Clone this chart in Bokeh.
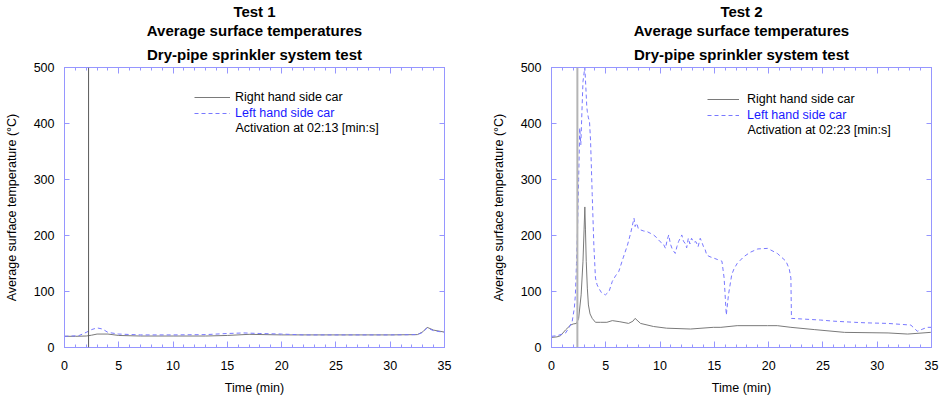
from bokeh.plotting import figure
from bokeh.layouts import row
from bokeh.models import (Range1d, FixedTicker, LinearAxis, Span, Legend,
                          LegendItem, Label, Title)
from bokeh.embed import file_html
from bokeh.resources import INLINE

FONT = "Liberation Sans"

# ---------------- data ----------------
x_major = [0, 5, 10, 15, 20, 25, 30, 35]
x_minor = list(range(0, 36))
y_major = [0, 100, 200, 300, 400, 500]

titles1 = ["Test 1", "Average surface temperatures", "Dry-pipe sprinkler system test"]
titles2 = ["Test 2", "Average surface temperatures", "Dry-pipe sprinkler system test"]

act1 = 2 + 13 / 60.0
act2 = 2 + 23 / 60.0
act1_text = "Activation at 02:13 [min:s]"
act2_text = "Activation at 02:23 [min:s]"

# Test 1 - right hand side car (grey solid)
t1_right = [0, 1, 2, 2.5, 3, 4, 5, 7, 10, 13, 15, 17, 20, 25, 30, 32.5, 33, 33.4, 34, 35]
v1_right = [20, 20, 20.5, 22, 24, 24, 21.5, 20.5, 20.5, 20.5, 21.5, 23.5, 22.5, 22.5, 22.5, 23, 28, 36, 31, 27.5]
# Test 1 - left hand side car (blue dashed)
t1_left = [0, 1.3, 2, 2.5, 3, 3.5, 4, 5, 7, 10, 13, 15, 16.5, 18, 20, 22, 25, 30, 32.5, 33, 33.4, 34, 35]
v1_left = [20, 21, 27, 32, 35, 33, 27, 24, 22.5, 22.5, 23, 25, 26, 25, 24, 22.5, 22.5, 22.5, 23, 27, 35, 30, 27]

# Test 2 - right hand side car (grey solid)
t2_right = [0, 0.5, 0.83, 1.3, 1.75, 2.0, 2.3, 2.5, 2.73, 2.9,
            3.0, 3.07, 3.13, 3.2, 3.3, 3.4, 3.55, 3.75, 4.05, 4.5,
            5.1, 5.6, 6.3, 7.1, 7.5, 7.7, 8.2, 9.4, 10.6, 12.8,
            14.9, 15.6, 17.1, 19.9, 20.8, 22.05, 24.2, 27, 31, 32.8,
            34.9, 35]
v2_right = [18, 19, 21, 31.5, 40, 42, 43, 52, 94, 154,
            210, 251, 210, 154, 106, 76, 60, 52, 45, 45,
            45, 48, 46, 43, 47, 52, 43, 37.5, 34.5, 33,
            36, 36, 39, 39, 39, 36, 32, 27, 26, 24,
            27, 27]
# Test 2 - left hand side car (blue dashed)
t2_left = [0, 0.5, 1.0, 1.3, 1.6, 1.9, 2.1, 2.2, 2.3, 2.4,
           2.5, 2.6, 2.7, 2.8, 2.9, 3.0, 3.07, 3.15, 3.25, 3.3,
           3.4, 3.5, 3.6, 3.75, 3.9, 4.05, 4.2, 4.35, 4.6, 4.97,
           5.3, 5.6, 5.9, 6.2, 6.6, 7.0, 7.3, 7.6, 7.7, 7.85,
           8.0, 8.2, 8.5, 8.8, 9.1, 9.4, 9.7, 10.0, 10.3, 10.5,
           10.65, 10.8, 10.95, 11.1, 11.25, 11.4, 11.55, 11.7, 11.85, 12.0,
           12.15, 12.3, 12.45, 12.6, 12.75, 12.9, 13.1, 13.3, 13.5, 13.7,
           13.85, 14.0, 14.15, 14.3, 14.6, 14.9, 15.3, 15.7, 15.9, 16.1,
           16.3, 16.6, 16.8, 17.1, 17.7, 18.3, 19.0, 19.9, 20.8, 21.6,
           21.9, 22.05, 22.1, 23, 24.8, 26, 27.9, 29, 31.0, 33.1,
           33.7, 34.2, 34.6, 35]
v2_left = [20, 21, 24, 26, 35, 46, 70, 94, 150, 213,
           300, 392, 362, 420, 475, 490, 500, 470, 430, 421,
           410, 404, 368, 273, 183, 124, 112, 106, 98, 94,
           100, 118, 128, 136, 160, 183, 205, 231, 216, 222,
           212, 210, 208, 207, 204, 201, 196, 189, 185, 177,
           192, 201, 185, 177, 172, 168, 180, 189, 195, 201,
           190, 186, 178, 195, 185, 195, 188, 189, 180, 195,
           188, 180, 175, 165, 162, 160, 157, 154, 124, 58,
           94, 130, 140, 150, 162, 170, 176, 177, 168, 154,
           140, 124, 52, 51, 49, 47, 45, 44, 43, 40,
           29, 33, 36, 36]

right_label = "Right hand side car"
left_label = "Left hand side car"

# ---------------- styles ----------------
FRAME = "#9696ff"
GREY = "#7a7a7a"
BLUE = "#7878ff"
BLUE_TXT = "#1a1aff"


def style_axis(ax, labels=True):
    ax.axis_line_color = FRAME
    ax.major_tick_line_color = FRAME
    ax.minor_tick_line_color = FRAME
    ax.major_tick_out = 0
    ax.minor_tick_out = 0
    ax.major_label_text_font = FONT
    ax.major_label_text_font_size = "12.5px"
    ax.major_label_text_color = "black"
    ax.axis_label_text_font = FONT
    ax.axis_label_text_font_size = "12.5px"
    ax.axis_label_text_font_style = "normal"
    ax.axis_label_text_color = "black"
    if not labels:
        ax.major_label_text_font_size = "1px"
        ax.major_label_text_color = None
        ax.major_label_standoff = 0
        ax.axis_label_standoff = 0


def make(titles, t_r, v_r, t_l, v_l, act, act_text, border_right,
         act_color, act_width, glyph_w, stand, leg_x, yr, yl, ya):
    p = figure(frame_width=380, frame_height=280,
               min_border_left=64, min_border_right=border_right,
               min_border_top=67, min_border_bottom=50,
               x_range=Range1d(0, 35), y_range=Range1d(0, 500),
               output_backend="svg", toolbar_location=None, title=None,
               x_axis_label="Time (min)",
               y_axis_label="Average surface temperature (\u00b0C)")
    p.background_fill_color = "white"
    p.border_fill_color = "white"
    p.outline_line_color = FRAME
    p.xgrid.visible = False
    p.ygrid.visible = False

    xt = FixedTicker(ticks=x_major, minor_ticks=x_minor)
    yt = FixedTicker(ticks=y_major, minor_ticks=[])

    p.xaxis.ticker = xt
    p.yaxis.ticker = yt
    for ax in p.xaxis:
        style_axis(ax)
        ax.major_tick_in = 6
        ax.minor_tick_in = 3
        ax.major_label_standoff = 13
        ax.axis_label_standoff = 8
    for ax in p.yaxis:
        style_axis(ax)
        ax.major_tick_in = 5
        ax.minor_tick_in = 0
        ax.major_label_standoff = 10
        ax.axis_label_standoff = 12

    top = LinearAxis(ticker=xt)
    style_axis(top, labels=False)
    top.major_tick_in = 6
    top.minor_tick_in = 3
    p.add_layout(top, "above")
    right = LinearAxis(ticker=yt)
    style_axis(right, labels=False)
    right.major_tick_in = 5
    right.minor_tick_in = 0
    p.add_layout(right, "right")

    # bottom title line is added first: later titles stack above earlier ones
    line_heights = [1.0, 0.8, 0.9]   # for lines 1, 2, 3
    standoffs = [0, 0, 10]
    for txt, lh, so in reversed(list(zip(titles, line_heights, standoffs))):
        p.add_layout(Title(text=txt, align="center", text_font=FONT,
                           text_font_size="15px", text_font_style="bold",
                           text_color="black", text_line_height=lh,
                           standoff=so), "above")

    p.add_layout(Span(location=act, dimension="height",
                      line_color=act_color, line_width=act_width))

    rr = p.line(t_r, v_r, line_color=GREY, line_width=1)
    rl = p.line(t_l, v_l, line_color=BLUE, line_width=1, line_dash="4 3")

    common = dict(padding=0, margin=0, spacing=0, border_line_color=None,
                  background_fill_alpha=0, glyph_width=glyph_w, glyph_height=14,
                  label_height=14, label_standoff=stand,
                  label_text_font=FONT, label_text_font_size="12.5px")
    leg_r = Legend(items=[LegendItem(label=right_label, renderers=[rr])],
                   location=(leg_x, yr), label_text_color="black", **common)
    leg_l = Legend(items=[LegendItem(label=left_label, renderers=[rl])],
                   location=(leg_x, yl), label_text_color=BLUE_TXT, **common)
    p.add_layout(leg_r)
    p.add_layout(leg_l)
    p.add_layout(Label(x=leg_x + glyph_w + stand, y=ya, x_units="screen",
                       y_units="screen", text=act_text, text_font=FONT,
                       text_font_size="12.5px", text_color="black",
                       text_baseline="middle"))
    return p


p1 = make(titles1, t1_right, v1_right, t1_left, v1_left, act1, act1_text, 43,
          "#5a5a5a", 1, 36, 5, 130, 243, 227, 220)
p2 = make(titles2, t2_right, v2_right, t2_left, v2_left, act2, act2_text, 8,
          "#b4b4b4", 2, 32, 8, 156, 241, 225, 218)

layout = row(p1, p2)
open("out.html", "w").write(file_html(layout, INLINE))
